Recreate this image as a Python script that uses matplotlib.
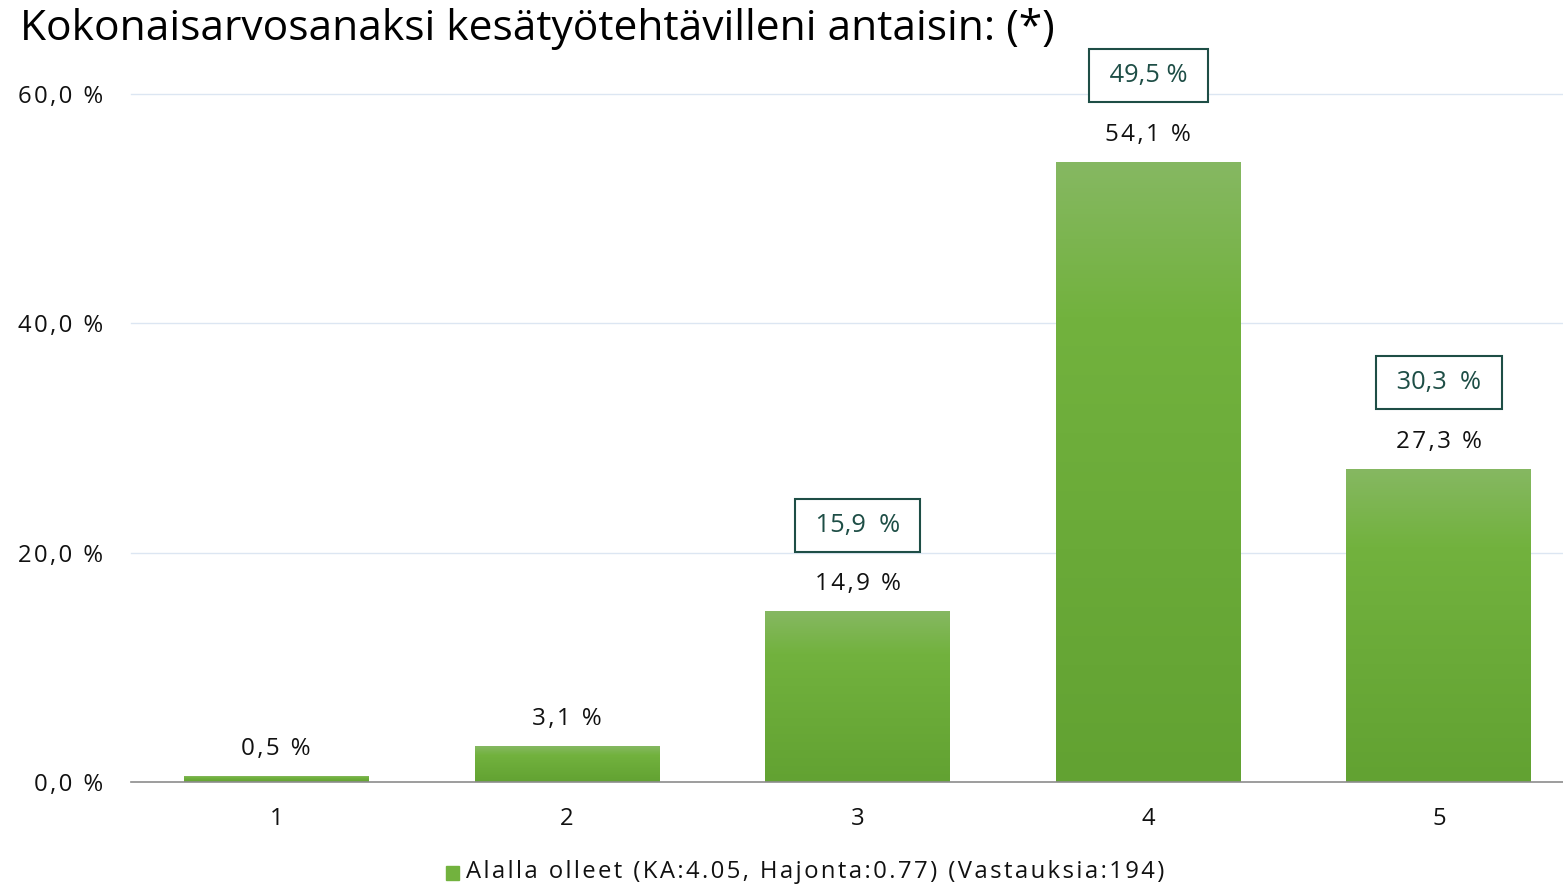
import numpy as np
import matplotlib
matplotlib.use('Agg')
import matplotlib.pyplot as plt
from matplotlib.colors import LinearSegmentedColormap

# data
categories = ['1', '2', '3', '4', '5']
values = [0.5, 3.1, 14.9, 54.1, 27.3]
value_labels = ['0,5 %', '3,1 %', '14,9 %', '54,1 %', '27,3 %']
ref_values = [None, None, 15.9, 49.5, 30.3]
ref_labels = [None, None, '15,9  %', '49,5 %', '30,3  %']
yticks = [0, 20, 40, 60]
ytick_labels = ['0,0 %', '20,0 %', '40,0 %', '60,0 %']
title = 'Kokonaisarvosanaksi kesätyötehtävilleni antaisin: (*)'
legend_text = 'Alalla olleet (KA:4.05, Hajonta:0.77) (Vastauksia:194)'

plt.rcParams['font.family'] = ['Open Sans', 'DejaVu Sans']


def spaced(s):
    # imitate the letter spacing of the original export
    return '\u200a'.join(s)


fig = plt.figure(figsize=(15.63, 8.88), dpi=100)
ax = fig.add_axes([0.0838, 0.1194, 1 - 0.0838, 0.8941 - 0.1194])

x = np.arange(1, len(categories) + 1)
bw = 0.636
bars = ax.bar(x, values, width=bw, color='#72b23e', zorder=2)

# vertical gradient for each bar
cmap = LinearSegmentedColormap.from_list('g', [(0, '#62a232'), (0.75, '#72b23e'), (1, '#86b862')])
grad = np.linspace(0, 1, 256).reshape(-1, 1)
for b in bars:
    bx, by = b.get_x(), b.get_y()
    w, h = b.get_width(), b.get_height()
    im = ax.imshow(grad, extent=[bx, bx + w, by, by + h], origin='lower',
                   cmap=cmap, aspect='auto', zorder=3)
    im.set_clip_path(b)

ax.set_xlim(0.5, 5.427)
ax.set_ylim(0, 60)

for xi, v, lab in zip(x, values, value_labels):
    ax.annotate(spaced(lab), (xi, v), xytext=(0, 19.5), textcoords='offset points',
                ha='center', va='center', fontsize=17.4, color='#111111')

for xi, v, rv, rl in zip(x, values, ref_values, ref_labels):
    if rv is None:
        continue
    ax.annotate(' ' + rl + ' ', (xi, v), xytext=(0, 62), textcoords='offset points',
                ha='center', va='center', fontsize=18.3, color='#1e4e46',
                annotation_clip=False,
                bbox=dict(boxstyle='square,pad=0.55', fc='white', ec='#1e4e46', lw=1.5))

ax.set_yticks(yticks)
ax.set_yticklabels([spaced(t) for t in ytick_labels], fontsize=17.2, color='#111111')
ax.set_xticks(x)
ax.set_xticklabels(categories, fontsize=17.2, color='#111111')
ax.tick_params(length=0)
ax.tick_params(axis='y', pad=20)
ax.tick_params(axis='x', pad=18)

for yv in yticks[1:]:
    ax.axhline(yv, color='#dce6f2', lw=1, zorder=1, clip_on=False)

for s in ['top', 'right', 'left']:
    ax.spines[s].set_visible(False)
ax.spines['bottom'].set_color('#8c8c8c')
ax.spines['bottom'].set_linewidth(1.2)
ax.spines['bottom'].set_zorder(4)

fig.text(0.0128, 1 - 29 / 888, title, fontsize=30.6, ha='left', va='center', color='#000000')

# legend
fig.patches.append(plt.Rectangle((446 / 1563, 1 - 880 / 888), 13 / 1563, 14 / 888,
                                 transform=fig.transFigure, color='#72b23e'))
fig.text(466 / 1563, 1 - 872 / 888, spaced(legend_text), fontsize=17.2, ha='left',
         va='center', color='#111111')

fig.savefig('out.png', dpi=100)
